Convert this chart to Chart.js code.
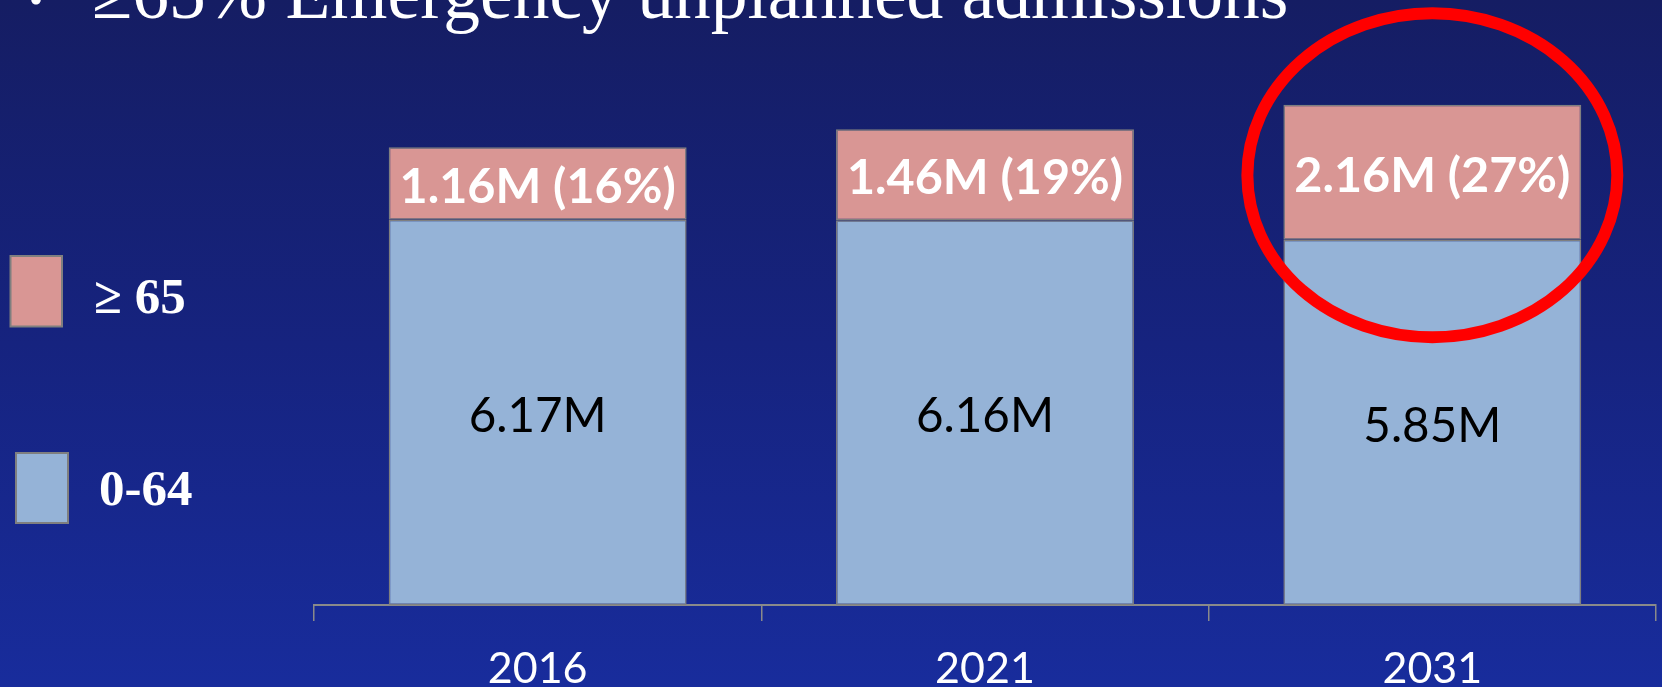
<!DOCTYPE html>
<html>
<head>
<meta charset="utf-8">
<script src="https://cdn.jsdelivr.net/npm/chart.js@4/dist/chart.umd.min.js"></script>
<style>
  html, body { margin: 0; padding: 0; width: 1662px; height: 687px; overflow: hidden;
    background: linear-gradient(to bottom, #151d63 0%, #16237f 50%, #182c9c 100%); }
  canvas { display: block; }
</style>
</head>
<body>
<canvas id="c" width="1662" height="687"></canvas>
<script>
// ---- data ----
const categories = ['2016', '2021', '2031'];
const under65 = [6.17, 6.16, 5.85];     // millions, 0-64
const over65 = [1.16, 1.46, 2.16];      // millions, >= 65
const over65Share = [16, 19, 27];       // percent
const seriesNames = ['0-64', '\u2265 65'];
const titleText = '\u226565% Emergency unplanned admissions';
const highlightIndex = 2;               // 2031 circled

const COL_BLUE = '#95b3d7';
const COL_PINK = '#d99694';
const COL_EDGE = '#7f7f7f';
const COL_AXIS = '#8a8a8a';

const bgPlugin = {
  id: 'bg',
  beforeDraw(chart) {
    const { ctx, width, height } = chart;
    const g = ctx.createLinearGradient(0, 0, 0, height);
    g.addColorStop(0, '#151d63');
    g.addColorStop(0.5, '#16237f');
    g.addColorStop(1, '#182c9c');
    ctx.save();
    ctx.fillStyle = g;
    ctx.fillRect(0, 0, width, height);
    ctx.restore();
  }
};

const titlePlugin = {
  id: 'slideTitle',
  beforeDatasetsDraw(chart) {
    const { ctx } = chart;
    ctx.save();
    ctx.fillStyle = '#ffffff';
    ctx.textBaseline = 'alphabetic';
    ctx.textAlign = 'left';
    ctx.font = '40px "Liberation Serif"';
    ctx.fillText('\u2022', 29, 14);
    ctx.font = '73.5px "Liberation Serif"';
    ctx.fillText(titleText, 92, 18);
    ctx.restore();
  }
};

const legendPlugin = {
  id: 'sideLegend',
  afterDraw(chart) {
    const { ctx } = chart;
    const ds = chart.data.datasets;
    const items = [
      { d: ds[1], box: [10.5, 256, 51.5, 70.5], tx: 94, ty: 313 },
      { d: ds[0], box: [16, 453, 52, 70], tx: 99, ty: 505 }
    ];
    ctx.save();
    items.forEach(it => {
      ctx.fillStyle = it.d.backgroundColor;
      ctx.fillRect(...it.box);
      ctx.strokeStyle = COL_EDGE;
      ctx.lineWidth = 2;
      ctx.strokeRect(...it.box);
      ctx.fillStyle = '#ffffff';
      ctx.font = 'bold 51px "Liberation Serif"';
      ctx.textAlign = 'left';
      ctx.textBaseline = 'alphabetic';
      ctx.fillText(it.d.label, it.tx, it.ty);
    });
    ctx.restore();
  }
};

const valueLabelPlugin = {
  id: 'valueLabels',
  afterDatasetsDraw(chart) {
    const { ctx } = chart;
    ctx.save();
    ctx.textAlign = 'center';
    ctx.textBaseline = 'alphabetic';
    chart.data.datasets.forEach((ds, di) => {
      const meta = chart.getDatasetMeta(di);
      meta.data.forEach((el, i) => {
        const { x, y, base } = el.getProps(['x', 'y', 'base'], true);
        const cy = (y + base) / 2;
        const v = ds.data[i];
        let txt;
        if (di === 0) {
          ctx.font = '47.5px Lato';
          ctx.fillStyle = '#000000';
          txt = v.toFixed(2) + 'M';
        } else {
          ctx.font = 'bold 48.5px Lato';
          ctx.fillStyle = '#ffffff';
          txt = v.toFixed(2) + 'M (' + over65Share[i] + '%)';
        }
        ctx.fillText(txt, x, cy + 19.5);
      });
    });
    ctx.restore();
  }
};

const ellipsePlugin = {
  id: 'highlight',
  afterDraw(chart) {
    const { ctx } = chart;
    const el = chart.getDatasetMeta(1).data[highlightIndex];
    const { x, y, base, width } = el.getProps(['x', 'y', 'base', 'width'], true);
    const cx = x;
    const cy = (y + base) / 2 + 3;
    ctx.save();
    ctx.strokeStyle = '#ff0000';
    ctx.lineWidth = 12;
    ctx.beginPath();
    ctx.ellipse(cx, cy, width / 2 + 36, 162, 0, 0, Math.PI * 2);
    ctx.stroke();
    ctx.restore();
  }
};

function build() {
  new Chart(document.getElementById('c'), {
    type: 'bar',
    data: {
      labels: categories,
      datasets: [
        { label: seriesNames[0], data: under65, backgroundColor: COL_BLUE, borderColor: COL_EDGE,
          borderWidth: 1.5, borderSkipped: false, barPercentage: 0.666, categoryPercentage: 1 },
        { label: seriesNames[1], data: over65, backgroundColor: COL_PINK, borderColor: COL_EDGE,
          borderWidth: 1.5, borderSkipped: false, barPercentage: 0.666, categoryPercentage: 1 }
      ]
    },
    options: {
      responsive: false,
      devicePixelRatio: 1,
      animation: false,
      layout: { padding: { left: 314, right: 6, top: 43, bottom: 0 } },
      plugins: { legend: { display: false }, tooltip: { enabled: false }, title: { display: false } },
      scales: {
        x: {
          stacked: true,
          offset: true,
          grid: { offset: true, drawOnChartArea: false, drawTicks: true, tickLength: 16,
                  color: COL_AXIS, lineWidth: 1.5 },
          border: { display: true, color: COL_AXIS, width: 2 },
          ticks: { color: '#ffffff', font: { family: 'Lato', size: 43 }, padding: 22 },
          afterFit(scale) { scale.height = 82; }
        },
        y: { stacked: true, display: false, min: 0, max: 9 }
      }
    },
    plugins: [bgPlugin, titlePlugin, valueLabelPlugin, legendPlugin, ellipsePlugin]
  });
}

Promise.all([
  document.fonts.load('46px Lato'),
  document.fonts.load('bold 46px Lato'),
  document.fonts.load('bold 51px "Liberation Serif"'),
  document.fonts.load('72px "Liberation Serif"')
]).then(build, build);
</script>
</body>
</html>
